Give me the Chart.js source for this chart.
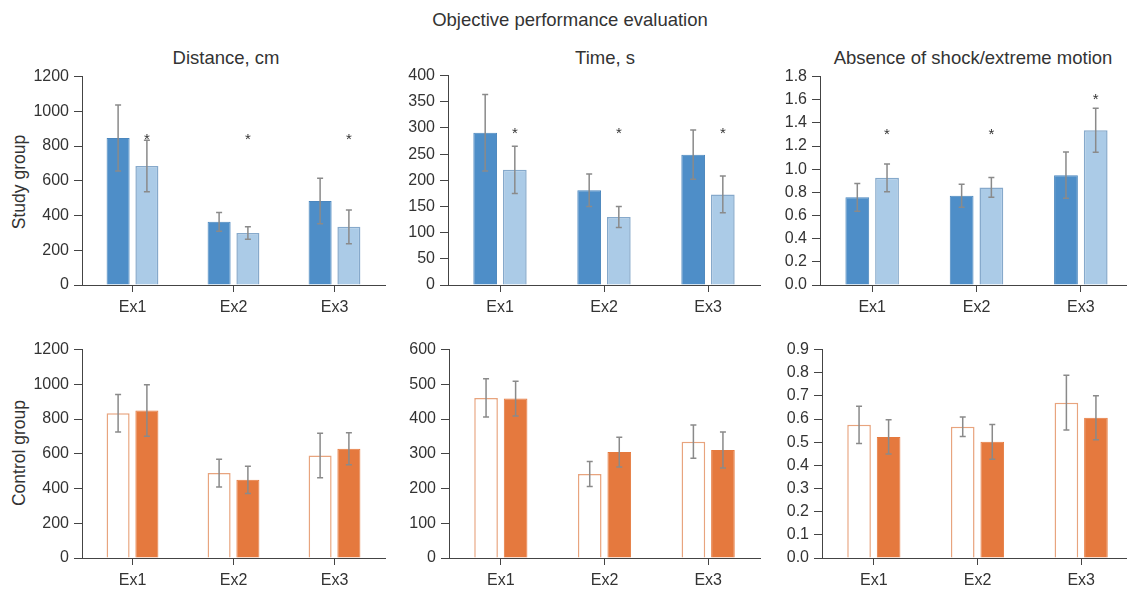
<!DOCTYPE html>
<html>
<head>
<meta charset="utf-8">
<script src="https://cdn.jsdelivr.net/npm/chart.js@4.4.1/dist/chart.umd.min.js"></script>
<style>
  html, body { margin: 0; padding: 0; background: #fff; }
  #wrap { position: relative; width: 1127px; height: 589px; overflow: hidden; font-family: "Liberation Sans", Arial, sans-serif; color: #333; }
  #wrap canvas { position: absolute; }
  .txt { position: absolute; white-space: nowrap; transform: translate(-50%, -50%); font-size: 18.5px; }
  .rot { transform: translate(-50%, -50%) rotate(-90deg); font-size: 17.5px; }
</style>
</head>
<body>
<div id="wrap">
  <div class="txt" style="left:570px; top:20px;">Objective performance evaluation</div>
  <div class="txt" style="left:226px; top:58px;">Distance, cm</div>
  <div class="txt" style="left:605px; top:58px;">Time, s</div>
  <div class="txt" style="left:973px; top:58px;">Absence of shock/extreme motion</div>
  <div class="txt rot" style="left:19px; top:182px;">Study group</div>
  <div class="txt rot" style="left:19px; top:453px;">Control group</div>
</div>
<script>
const categories = ['Ex1', 'Ex2', 'Ex3'];

// study group (blue): A = dark bar, B = light bar
const studyDistA = [846, 364, 484];
const studyDistAErr = [190, 54, 131];
const studyDistB = [685, 299, 335];
const studyDistBErr = [148, 36, 97];
const studyDistStars = [860, 860, 860];

const studyTimeA = [291, 181, 249];
const studyTimeAErr = [73, 31, 47];
const studyTimeB = [220, 130, 173];
const studyTimeBErr = [45, 20, 35];
const studyTimeStars = [297, 297, 297];

const studyShockA = [0.757, 0.771, 0.949];
const studyShockAErr = [0.12, 0.10, 0.20];
const studyShockB = [0.926, 0.843, 1.337];
const studyShockBErr = [0.12, 0.085, 0.19];
const studyShockStars = [1.33, 1.33, 1.63];

// control group (orange): A = open bar, B = filled bar
const ctrlDistA = [834, 489, 590];
const ctrlDistAErr = [108, 80, 128];
const ctrlDistB = [849, 450, 629];
const ctrlDistBErr = [148, 79, 92];

const ctrlTimeA = [461, 242, 335];
const ctrlTimeAErr = [55, 36, 48];
const ctrlTimeB = [459, 305, 311];
const ctrlTimeBErr = [50, 43, 52];

const ctrlShockA = [0.575, 0.567, 0.671];
const ctrlShockAErr = [0.08, 0.042, 0.118];
const ctrlShockB = [0.523, 0.502, 0.606];
const ctrlShockBErr = [0.074, 0.075, 0.095];

// y axis ranges
const distTicks = { max: 1200, step: 200 };
const timeTicksTop = { max: 400, step: 50 };
const timeTicksBot = { max: 600, step: 100 };
const shockTicksTop = { max: 1.8, step: 0.2, dec: 1 };
const shockTicksBot = { max: 0.9, step: 0.1, dec: 1 };

Chart.defaults.font.family = '"Liberation Sans", Arial, sans-serif';
Chart.defaults.color = '#333';

const AXIS = '#444';
const YW = 70, PT = 14, XH = 40, PR = 4;

const errorBars = {
    id: 'errorBars',
    afterDatasetsDraw(chart) {
        const ctx = chart.ctx;
        const y = chart.scales.y;
        ctx.save();
        chart.data.datasets.forEach((ds, i) => {
            const meta = chart.getDatasetMeta(i);
            meta.data.forEach((bar, j) => {
                if (ds.errors) {
                    const v = ds.data[j], e = ds.errors[j];
                    const top = y.getPixelForValue(v + e);
                    const bot = y.getPixelForValue(v - e);
                    ctx.strokeStyle = '#8a8a8a';
                    ctx.lineWidth = 1.5;
                    ctx.beginPath();
                    ctx.moveTo(bar.x, top); ctx.lineTo(bar.x, bot);
                    ctx.moveTo(bar.x - 3, top); ctx.lineTo(bar.x + 3, top);
                    ctx.moveTo(bar.x - 3, bot); ctx.lineTo(bar.x + 3, bot);
                    ctx.stroke();
                }
                if (ds.stars && ds.stars[j] != null) {
                    ctx.fillStyle = '#333';
                    ctx.font = '15px "Liberation Sans", Arial, sans-serif';
                    ctx.textAlign = 'center';
                    ctx.textBaseline = 'alphabetic';
                    ctx.fillText('*', bar.x, y.getPixelForValue(ds.stars[j]) + 8);
                }
            });
        });
        ctx.restore();
    }
};

function panel(left, right, top, bottom, sets, yt) {
    const canvas = document.createElement('canvas');
    const w = YW + (right - left) + PR;
    const h = PT + (bottom - top) + XH;
    canvas.width = w; canvas.height = h;
    canvas.style.width = w + 'px'; canvas.style.height = h + 'px';
    canvas.style.left = (left - YW) + 'px';
    canvas.style.top = (top - PT) + 'px';
    document.getElementById('wrap').appendChild(canvas);
    new Chart(canvas, {
        type: 'bar',
        data: { labels: categories, datasets: sets },
        options: {
            responsive: false,
            animation: false,
            layout: { padding: { top: PT, right: PR, left: 0, bottom: 0 } },
            plugins: { legend: { display: false }, tooltip: { enabled: false } },
            scales: {
                x: {
                    afterFit: s => { s.height = XH; },
                    grid: { offset: false, drawOnChartArea: false, tickLength: 7, color: AXIS, lineWidth: 1 },
                    border: { color: AXIS, width: 1 },
                    ticks: { font: { size: 16 }, padding: 6, color: '#333' }
                },
                y: {
                    min: 0, max: yt.max,
                    afterFit: s => { s.width = YW; },
                    grid: { drawOnChartArea: false, tickLength: 8, color: AXIS, lineWidth: 1 },
                    border: { color: AXIS, width: 1 },
                    ticks: {
                        stepSize: yt.step, font: { size: 16 }, padding: 5, color: '#333',
                        callback: v => yt.dec ? v.toFixed(yt.dec) : v
                    }
                }
            },
            datasets: { bar: { categoryPercentage: 0.57, barPercentage: 0.8 } }
        },
        plugins: [errorBars]
    });
}

function blueSets(a, ae, b, be, stars) {
    return [
        { data: a, errors: ae, backgroundColor: '#4e8ec8', borderColor: '#4a86bd', borderWidth: 1 },
        { data: b, errors: be, stars: stars, backgroundColor: '#abcbe7', borderColor: '#86a9cb', borderWidth: 1.5 }
    ];
}
function orangeSets(a, ae, b, be) {
    return [
        { data: a, errors: ae, backgroundColor: '#ffffff', borderColor: '#e8a47e', borderWidth: 1.5 },
        { data: b, errors: be, backgroundColor: '#e5793e', borderColor: '#e5793e', borderWidth: 1 }
    ];
}

panel(82, 385, 76, 285, blueSets(studyDistA, studyDistAErr, studyDistB, studyDistBErr, studyDistStars), distTicks);
panel(448, 760, 75, 285, blueSets(studyTimeA, studyTimeAErr, studyTimeB, studyTimeBErr, studyTimeStars), timeTicksTop);
panel(820, 1133, 76, 285, blueSets(studyShockA, studyShockAErr, studyShockB, studyShockBErr, studyShockStars), shockTicksTop);
panel(82, 385, 349, 558, orangeSets(ctrlDistA, ctrlDistAErr, ctrlDistB, ctrlDistBErr), distTicks);
panel(449, 760, 349, 558, orangeSets(ctrlTimeA, ctrlTimeAErr, ctrlTimeB, ctrlTimeBErr), timeTicksBot);
panel(822, 1133, 349, 558, orangeSets(ctrlShockA, ctrlShockAErr, ctrlShockB, ctrlShockBErr), shockTicksBot);
</script>
</body>
</html>
